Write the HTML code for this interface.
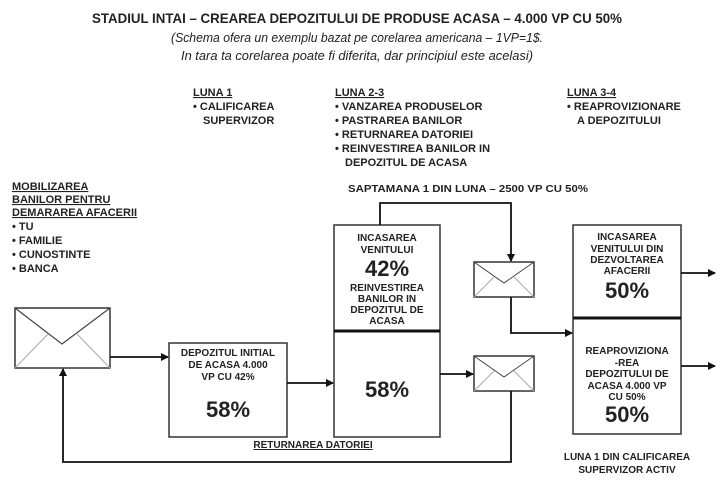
<!DOCTYPE html>
<html><head><meta charset="utf-8"><style>
html,body{margin:0;padding:0;background:#fff;width:725px;height:502px;overflow:hidden}
svg{display:block}
text{font-family:"Liberation Sans Narrow","Liberation Sans",sans-serif;fill:#222}
.b{font-weight:bold;font-size:11px}
.s{font-size:10px;font-weight:bold}
.c{text-anchor:middle}
.p{font-size:22px;font-weight:bold;font-family:"Liberation Sans",sans-serif;text-anchor:middle}
</style></head><body>
<svg width="725" height="502" viewBox="0 0 725 502" xmlns="http://www.w3.org/2000/svg">
<defs>
<marker id="a" markerWidth="8" markerHeight="8" refX="7" refY="4" orient="auto" markerUnits="userSpaceOnUse"><path d="M0,0 L8,4 L0,8 z" fill="#111"/></marker>
</defs>
<text x="357" y="23" class="c" style="font-family:'Liberation Sans Narrow','Liberation Sans',sans-serif;font-weight:bold;font-size:14px" textLength="530" lengthAdjust="spacingAndGlyphs">STADIUL INTAI – CREAREA DEPOZITULUI DE PRODUSE ACASA – 4.000 VP CU 50%</text>
<text x="357" y="42" class="c" style="font-style:italic;font-size:12.5px" textLength="372" lengthAdjust="spacingAndGlyphs">(Schema ofera un exemplu bazat pe corelarea americana – 1VP=1$.</text>
<text x="357" y="60" class="c" style="font-style:italic;font-size:12.5px" textLength="352" lengthAdjust="spacingAndGlyphs">In tara ta corelarea poate fi diferita, dar principiul este acelasi)</text>

<g class="b">
<text x="193" y="96" text-decoration="underline">LUNA 1</text>
<text x="193" y="110">• CALIFICAREA</text>
<text x="203" y="124">SUPERVIZOR</text>
<text x="335" y="96" text-decoration="underline">LUNA 2-3</text>
<text x="335" y="110">• VANZAREA PRODUSELOR</text>
<text x="335" y="124">• PASTRAREA BANILOR</text>
<text x="335" y="138">• RETURNAREA DATORIEI</text>
<text x="335" y="152">• REINVESTIREA BANILOR IN</text>
<text x="345" y="166">DEPOZITUL DE ACASA</text>
<text x="567" y="96" text-decoration="underline">LUNA 3-4</text>
<text x="567" y="110">• REAPROVIZIONARE</text>
<text x="577" y="124">A DEPOZITULUI</text>
<text x="12" y="190" text-decoration="underline">MOBILIZAREA</text>
<text x="12" y="203" text-decoration="underline">BANILOR PENTRU</text>
<text x="12" y="216" text-decoration="underline">DEMARAREA AFACERII</text>
<text x="12" y="230">• TU</text>
<text x="12" y="244">• FAMILIE</text>
<text x="12" y="258">• CUNOSTINTE</text>
<text x="12" y="272">• BANCA</text>
</g>
<text x="468" y="192" class="s c" textLength="240" lengthAdjust="spacingAndGlyphs">SAPTAMANA 1 DIN LUNA – 2500 VP CU 50%</text>

<g stroke="#333" stroke-width="1.5" fill="#fff">
<rect x="15" y="308" width="95" height="60"/>
<rect x="169" y="343" width="118" height="94"/>
<rect x="334" y="225" width="106" height="212"/>
<rect x="573" y="225" width="108" height="209"/>
<rect x="474" y="262" width="60" height="35"/>
<rect x="474" y="356" width="60" height="35"/>
</g>
<line x1="334" y1="331" x2="440" y2="331" stroke="#111" stroke-width="3"/>
<line x1="573" y1="318" x2="681" y2="318" stroke="#111" stroke-width="3"/>
<g fill="none">
<polyline points="15,308 62,344 110,308" stroke="#444" stroke-width="1.2"/>
<line x1="15" y1="368" x2="48" y2="334" stroke="#aaa"/><line x1="110" y1="368" x2="77" y2="334" stroke="#aaa"/>
<polyline points="474,262 504,283 534,262" stroke="#444"/>
<line x1="474" y1="297" x2="494" y2="277" stroke="#aaa"/><line x1="534" y1="297" x2="514" y2="277" stroke="#aaa"/>
<polyline points="474,356 504,377 534,356" stroke="#444"/>
<line x1="474" y1="391" x2="494" y2="371" stroke="#aaa"/><line x1="534" y1="391" x2="514" y2="371" stroke="#aaa"/>
</g>
<g stroke="#111" stroke-width="1.8" fill="none">
<line x1="110" y1="357" x2="168" y2="357" marker-end="url(#a)"/>
<line x1="287" y1="383" x2="333" y2="383" marker-end="url(#a)"/>
<line x1="440" y1="374" x2="473" y2="374" marker-end="url(#a)"/>
<polyline points="380,225 380,203 511,203 511,261" marker-end="url(#a)"/>
<polyline points="511,297 511,333 572,333" marker-end="url(#a)"/>
<polyline points="511,391 511,462 63,462 63,369" marker-end="url(#a)"/>
<line x1="681" y1="273" x2="715" y2="273" marker-end="url(#a)"/>
<line x1="681" y1="366" x2="715" y2="366" marker-end="url(#a)"/>
</g>

<g class="s c">
<text x="228" y="356">DEPOZITUL INITIAL</text>
<text x="228" y="368">DE ACASA 4.000</text>
<text x="228" y="380">VP CU 42%</text>
<text x="387" y="241">INCASAREA</text>
<text x="387" y="253">VENITULUI</text>
<text x="387" y="291">REINVESTIREA</text>
<text x="387" y="302">BANILOR IN</text>
<text x="387" y="313">DEPOZITUL DE</text>
<text x="387" y="324">ACASA</text>
<text x="627" y="240">INCASAREA</text>
<text x="627" y="252">VENITULUI DIN</text>
<text x="627" y="263">DEZVOLTAREA</text>
<text x="627" y="274">AFACERII</text>
<text x="627" y="354">REAPROVIZIONA</text>
<text x="627" y="366">-REA</text>
<text x="627" y="377">DEPOZITULUI DE</text>
<text x="627" y="389">ACASA 4.000 VP</text>
<text x="627" y="400">CU 50%</text>
<text x="627" y="460">LUNA 1 DIN CALIFICAREA</text>
<text x="627" y="473">SUPERVIZOR ACTIV</text>
<text x="313" y="448" text-decoration="underline">RETURNAREA  DATORIEI</text>
</g>
<text x="228" y="417" class="p">58%</text>
<text x="387" y="276" class="p">42%</text>
<text x="387" y="397" class="p">58%</text>
<text x="627" y="298" class="p">50%</text>
<text x="627" y="422" class="p">50%</text>
</svg>
</body></html>
